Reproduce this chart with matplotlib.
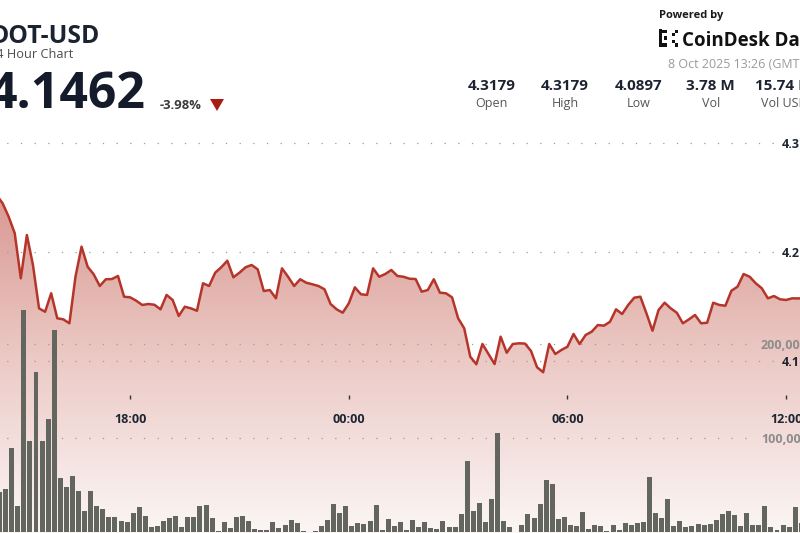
import numpy as np
import pandas as pd
import matplotlib
matplotlib.use("Agg")
import matplotlib.pyplot as plt
import matplotlib.transforms as mtransforms
from matplotlib.colors import LinearSegmentedColormap
from matplotlib.patches import Rectangle, Polygon

plt.rcParams['font.family'] = ['Open Sans', 'DejaVu Sans']
plt.rcParams['lines.scale_dashes'] = False

# ---------------- data ----------------
start_time = "2025-10-07 14:20"
interval = "10min"
prices = [
    4.2523, 4.2447, 4.2324, 4.2172, 4.1759, 4.2156, 4.1881, 4.1483, 4.1452, 4.1621,
    4.1392, 4.1382, 4.1346, 4.1773, 4.2049, 4.1865, 4.1795, 4.1688, 4.1750, 4.1752,
    4.1780, 4.1590, 4.1584, 4.1553, 4.1514, 4.1523, 4.1516, 4.1474, 4.1606, 4.1560,
    4.1413, 4.1498, 4.1483, 4.1461, 4.1713, 4.1688, 4.1810, 4.1860, 4.1920, 4.1768,
    4.1810, 4.1860, 4.1881, 4.1841, 4.1642, 4.1651, 4.1575, 4.1850, 4.1773, 4.1688,
    4.1750, 4.1718, 4.1704, 4.1688, 4.1658, 4.1523, 4.1474, 4.1443, 4.1529, 4.1676,
    4.1612, 4.1606, 4.1850, 4.1773, 4.1798, 4.1835, 4.1780, 4.1773, 4.1755, 4.1752,
    4.1636, 4.1651, 4.1750, 4.1627, 4.1621, 4.1584, 4.1392, 4.1300, 4.1039, 4.0970,
    4.1156, 4.1064, 4.0972, 4.1223, 4.1076, 4.1156, 4.1162, 4.1160, 4.1092, 4.0942,
    4.0897, 4.1156, 4.1064, 4.1101, 4.1131, 4.1248, 4.1156, 4.1239, 4.1269, 4.1330,
    4.1324, 4.1360, 4.1474, 4.1431, 4.1514, 4.1581, 4.1590, 4.1438, 4.1278, 4.1468,
    4.1535, 4.1483, 4.1443, 4.1346, 4.1382, 4.1422, 4.1346, 4.1351, 4.1535, 4.1514,
    4.1507, 4.1645, 4.1682, 4.1798, 4.1773, 4.1713, 4.1667, 4.1575, 4.1596, 4.1566,
    4.1560, 4.1575, 4.1574, 4.1578,
]
volumes_k = [
    42.9, 45.4, 89.7, 28.0, 236.2, 96.8, 170.5, 96.8, 120.2, 214.9,
    57.8, 48.2, 59.9, 43.6, 22.7, 43.9, 27.7, 24.8, 15.6, 15.6,
    11.7, 11.0, 19.9, 26.9, 17.0, 5.7, 6.4, 11.7, 14.5, 17.0,
    5.7, 15.6, 15.6, 27.3, 28.4, 14.9, 1.4, 10.3, 4.3, 16.0,
    16.7, 12.1, 3.2, 1.8, 2.5, 10.3, 4.3, 7.8, 12.8, 9.6,
    1.4, 0.3, 1.4, 6.0, 13.1, 30.1, 20.2, 28.0, 6.0, 9.6,
    8.5, 12.1, 29.1, 2.5, 13.8, 6.0, 10.6, 2.5, 13.1, 5.0,
    10.3, 4.3, 3.2, 12.1, 5.0, 5.3, 19.1, 75.5, 22.7, 30.9,
    10.6, 35.5, 105.7, 11.3, 5.3, 0.3, 7.1, 19.5, 14.5, 30.1,
    55.0, 51.1, 14.2, 16.3, 7.8, 6.0, 20.9, 3.2, 7.8, 6.7,
    0.7, 7.8, 1.8, 9.6, 7.8, 9.2, 10.6, 58.2, 20.2, 14.9,
    35.5, 6.0, 12.1, 5.3, 6.0, 8.5, 7.1, 8.5, 12.4, 19.5,
    22.7, 18.1, 6.0, 19.9, 7.1, 7.1, 27.3, 5.3, 1.8, 7.8,
    5.3, 26.3, 9.6,
]
x_tick_times = ["2025-10-07 18:00", "2025-10-08 00:00", "2025-10-08 06:00", "2025-10-08 12:00"]
x_tick_labels = ["18:00", "00:00", "06:00", "12:00"]
price_ticks = [4.3, 4.2, 4.1]
price_tick_labels = ["4.3", "4.2", "4.1"]
vol_ticks = [200000, 100000]
vol_tick_labels = ["200,000", "100,000"]

symbol = "DOT-USD"
subtitle = "24 Hour Chart"
last_price = "4.1462"
change_pct = "-3.98%"
stat_values = ["4.3179", "4.3179", "4.0897", "3.78 M", "15.74 M"]
stat_labels = ["Open", "High", "Low", "Vol", "Vol USD"]
timestamp = "8 Oct 2025 13:26 (GMT)"

# ---------------- derived ----------------
ref = pd.Timestamp("2025-10-08 00:00")
times = pd.date_range(start_time, periods=len(prices), freq=interval)
hours = np.asarray((times - ref) / pd.Timedelta(hours=1), dtype=float)
bar_hours = hours[:len(volumes_k)] + 5 / 60
volumes = np.array(volumes_k) * 1000
tick_hours = np.asarray((pd.to_datetime(x_tick_times) - ref) / pd.Timedelta(hours=1), dtype=float)

W, H = 800, 533
XLIM = (-9.571, 12.381)
PLIM = (3.9422, 4.4312)
VLIM = (-1064, 565957)

fig = plt.figure(figsize=(W / 100, H / 100), dpi=100)
fig.patch.set_facecolor("white")

ax_fill = fig.add_axes([0, 0, 1, 1])
ax_vol = fig.add_axes([0, 0, 1, 1])
ax_line = fig.add_axes([0, 0, 1, 1])
for a in (ax_fill, ax_vol, ax_line):
    a.set_axis_off()
    a.patch.set_alpha(0)
    a.set_xlim(*XLIM)
ax_fill.set_ylim(*PLIM)
ax_line.set_ylim(*PLIM)
ax_vol.set_ylim(*VLIM)

# gradient area under price line
poly = ax_fill.fill_between(hours, prices, PLIM[0], facecolor="none", edgecolor="none")
cmap = LinearSegmentedColormap.from_list("g", ["#d8968f", "#eccac6", "#fbf6f5"])
grad = np.linspace(0, 1, 256).reshape(-1, 1)
im = ax_fill.imshow(grad, extent=[XLIM[0] - 1, XLIM[1] + 1, PLIM[0], 4.26],
                    aspect="auto", cmap=cmap, origin="upper", zorder=1)
im.set_clip_path(poly.get_paths()[0], transform=ax_fill.transData)
ax_fill.set_xlim(*XLIM)
ax_fill.set_ylim(*PLIM)

# dotted grid lines
dots = dict(color="#9b9b9b", linewidth=0.9, linestyle=(5.0, (0.9, 8.94)))
for p in price_ticks:
    ax_fill.axhline(p, xmin=0, xmax=776 / W, zorder=2, **dots)
for v in vol_ticks:
    ax_vol.axhline(v, xmin=0, xmax=755 / W, zorder=1, **dots)

# volume bars
ax_vol.bar(bar_hours, volumes, width=(10 / 60) * 0.82, color="#62665f",
           linewidth=0, zorder=2)

# price line
ax_line.plot(hours, prices, color="#b5352b", linewidth=1.8, solid_joinstyle="round",
             solid_capstyle="round", zorder=3)

# x ticks and labels
bt = mtransforms.blended_transform_factory(ax_line.transData, ax_line.transAxes)
ax_line.plot(tick_hours, np.full(len(tick_hours), 1 - 397 / H), transform=bt,
             marker="|", markersize=2.5, markeredgewidth=1.0, linestyle="none", color="#333333")
for th, lab in zip(tick_hours, x_tick_labels):
    ax_line.text(th, 1 - 423.3 / H, lab, transform=bt, ha="center", va="baseline",
                 fontsize=9, fontweight="bold", color="#1e2633")

# right axis labels
bp = mtransforms.blended_transform_factory(fig.transFigure, ax_line.transData)
for p, lab in zip(price_ticks, price_tick_labels):
    ax_line.text(782 / W, p, lab, transform=bp, ha="left", va="center_baseline",
                 fontsize=9, fontweight="bold", color="#1e2633")
bv = mtransforms.blended_transform_factory(fig.transFigure, ax_vol.transData)
for v, lab in zip(vol_ticks, vol_tick_labels):
    ax_vol.text(761 / W, v, lab, transform=bv, ha="left", va="center_baseline",
                fontsize=9, fontweight="bold", color="#8d8d8d", zorder=5)


def fx(x):
    return x / W


def fy(y):
    return 1 - y / H


# header left
fig.text(fx(100), fy(42.7), symbol, ha="right", va="baseline", fontsize=17.8,
         fontweight="bold", color="#1b2332")
fig.text(fx(73), fy(58.3), subtitle, ha="right", va="baseline", fontsize=9.2,
         color="#4d4d4d")
fig.text(fx(145), fy(108.3), last_price, ha="right", va="baseline", fontsize=36,
         fontweight="bold", color="#141b2a")
fig.text(fx(160), fy(109.3), change_pct, ha="left", va="baseline", fontsize=9.4,
         fontweight="bold", color="#3a3a3a")
tri = Polygon([(fx(210), fy(99)), (fx(224), fy(99)), (fx(217), fy(111))],
              closed=True, transform=fig.transFigure, facecolor="#a81d10", edgecolor="none")
fig.add_artist(tri)

# header right
fig.text(fx(659), fy(17.7), "Powered by", ha="left", va="baseline", fontsize=8,
         fontweight="bold", color="#1a1a1a")
for (x, y, w, h) in [(659, 29.5, 3, 17), (659, 29.5, 8, 3), (659, 43.5, 8, 3),
                     (664, 36.5, 3, 3), (671.5, 33, 3, 3), (671.5, 40, 3, 3),
                     (675, 29.5, 3, 3), (675, 43.5, 3, 3)]:
    fig.add_artist(Rectangle((fx(x), fy(y + h)), w / W, h / H, transform=fig.transFigure,
                             facecolor="#111111", edgecolor="none"))
fig.text(fx(682), fy(46), "CoinDesk Data", ha="left", va="baseline", fontsize=13.5,
         fontweight="bold", color="#111111")
fig.text(fx(668), fy(68.3), timestamp, ha="left", va="baseline", fontsize=9,
         color="#9a9a9a")

stat_x = [491.7, 565, 638.3, 710.7, 784]
for xc, val, lab in zip(stat_x, stat_values, stat_labels):
    fig.text(fx(xc), fy(90), val, ha="center", va="baseline", fontsize=11,
             fontweight="bold", color="#1d2330")
    fig.text(fx(xc), fy(107.3), lab, ha="center", va="baseline", fontsize=9,
             color="#555555")

fig.savefig("out.png", dpi=100)
